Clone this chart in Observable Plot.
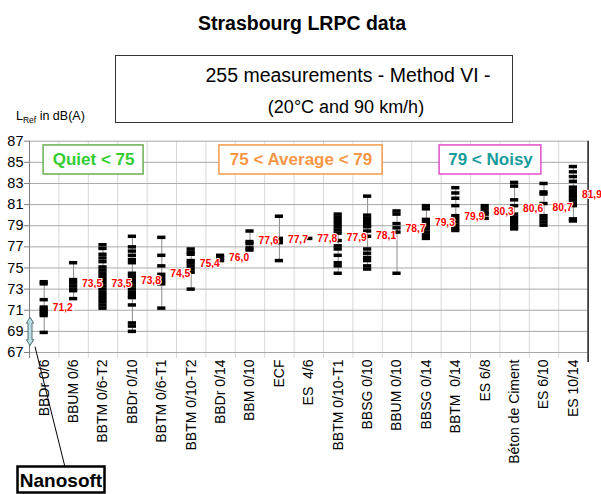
<!DOCTYPE html>
<html><head><meta charset="utf-8">
<script src="https://cdn.jsdelivr.net/npm/d3@7"></script>
<script src="https://cdn.jsdelivr.net/npm/@observablehq/plot@0.6"></script>
<style>
body{margin:0;background:#fff;}
#chart{width:601px;height:494px;overflow:hidden;}
svg text{white-space:pre;}
</style>
</head><body><div id="chart"></div>
<script>
const categories = ["BBDr 0/6","BBUM 0/6","BBTM 0/6-T2","BBDr 0/10","BBTM 0/6-T1","BBTM 0/10-T2","BBDr 0/14","BBM 0/10","ECF","ES  4/6","BBTM 0/10-T1","BBSG 0/10","BBUM 0/10","BBSG 0/14","BBTM  0/14","ES 6/8","Béton de Ciment","ES 6/10","ES 10/14"];

const measurements = [
  [73.7,73.5,72.0,71.3,71.1,70.9,70.7,70.5,68.9],
  [75.5,73.9,73.6,73.3,73.0,72.85,72.1],
  [77.2,76.85,76.3,75.95,75.6,75.1,74.8,74.5,74.2,73.9,73.6,73.3,73.0,72.7,72.4,72.1,71.8,71.5,71.2],
  [78.0,77.0,76.6,76.2,75.8,75.5,74.5,74.2,73.9,73.6,73.3,73.0,72.7,72.4,72.2,71.5,69.8,69.5,69.0],
  [77.9,76.2,75.2,74.4,74.1,73.8,73.5,71.2],
  [76.8,76.5,76.3,75.7,75.5,75.2,74.9,74.6,73.0],
  [76.2,75.95,75.7],
  [78.5,77.5,77.3,76.9,76.7],
  [79.9,77.8,77.6,77.4,75.7],
  [77.8],
  [80.1,79.8,79.5,79.2,78.9,78.6,78.3,77.6,77.1,76.8,76.2,75.5,75.2,74.5],
  [81.8,80.0,79.7,79.4,79.1,78.9,78.5,78.0,76.8,76.4,76.0,75.7,75.2,74.9],
  [80.4,80.1,79.2,78.8,78.4,74.5],
  [80.9,80.6,79.6,79.3,79.0,78.7,78.4,78.1,77.8],
  [82.6,82.1,81.6,80.9,79.95,79.65,79.35,79.05,78.75,78.55],
  [80.9,80.6,80.3,80.1,79.7],
  [83.1,82.75,81.45,80.9,80.1,79.8,79.5,79.2,78.9,78.7],
  [83.0,82.2,82.0,81.1,79.95,79.65,79.35,79.05],
  [84.6,84.1,83.65,83.2,82.65,82.35,82.05,81.75,81.45,81.15,80.9,79.65,79.45]
];

const means = [71.2,73.5,73.5,73.8,74.5,75.4,76.0,77.6,77.7,77.8,77.9,78.1,78.7,79.3,79.9,80.3,80.6,80.7,81.9];

const yTicks = [67,69,71,73,75,77,79,81,83,85,87];

const classes = ["Quiet < 75","75 < Average < 79","79 < Noisy"];

// annotation boxes (layout of the legend boxes, in data units)
const annotations = [
  {label: classes[0], x1: -0.02, x2: 3.38, y1: 83.85, y2: 86.6, border: "#6aaf50", color: "#33cc33"},
  {label: classes[1], x1: 5.96, x2: 11.51, y1: 83.85, y2: 86.6, border: "#f39a4a", color: "#f79646"},
  {label: classes[2], x1: 13.45, x2: 16.91, y1: 83.85, y2: 86.6, border: "#e44fc8", color: "#169c9c"}
];

const points = measurements.flatMap((vals, i) => vals.map(v => ({i, v})));
const ranges = measurements.map((vals, i) => ({i, lo: d3.min(vals), hi: d3.max(vals)}));
const labels = means.map((m, i) => ({i, m, text: m.toFixed(1).replace(".", ",")}));
const idx = d3.range(categories.length);
const n = categories.length;
const bounds = d3.range(1, n).map(k => k - 0.5);

const font = "'Liberation Sans', Arial, sans-serif";

const plot = Plot.plot({
  width: 601, height: 494,
  marginLeft: 29, marginRight: 13.4, marginTop: 140.7, marginBottom: 142,
  style: {fontFamily: font, background: "#fff", color: "#000", overflow: "hidden"},
  x: {type: "linear", domain: [-0.5, n - 0.5]},
  y: {domain: [67, 87]},
  color: {type: "identity"},
  marks: [
    Plot.ruleX(bounds, {y1: 87, y2: 67, insetBottom: -6, stroke: "#d9d9d9"}),
    Plot.ruleY(yTicks, {stroke: "#a8a8a8"}),
    Plot.ruleX([-0.5], {y1: 87, y2: 67, insetBottom: -6, stroke: "#808080"}),
    Plot.ruleX([n - 0.5], {y1: 87, y2: 67, insetBottom: -10, stroke: "#1a1a1a", strokeWidth: 1.5}),
    Plot.axisY({ticks: yTicks, tickSize: 5, tickPadding: 1, fontSize: 14.5, stroke: "#808080", fill: "#000", label: null}),
    Plot.axisX({ticks: idx, tickFormat: i => categories[i], tickRotate: -90, tickSize: 0, tickPadding: 7, fontSize: 14, fill: "#000", label: null}),
    Plot.ruleX(ranges, {x: "i", y1: "lo", y2: "hi", stroke: "#8c8c8c"}),
    Plot.ruleY(points, {x1: d => d.i - 0.14, x2: d => d.i + 0.14, y: "v", stroke: "#000", strokeWidth: 3.5}),
    Plot.text(labels, {x: "i", y: "m", text: "text", dx: 8.5, textAnchor: "start", fill: "#ff0000", stroke: "#fff", strokeWidth: 2, paintOrder: "stroke", fontWeight: "bold", fontSize: 10.3}),
    Plot.rect(annotations, {x1: "x1", x2: "x2", y1: "y1", y2: "y2", fill: "#fff", stroke: "border", strokeWidth: 1.5}),
    Plot.text(annotations, {x: d => (d.x1 + d.x2) / 2, y: d => (d.y1 + d.y2) / 2, text: "label", fill: "color", fontWeight: "bold", fontSize: 17})
  ]
});

document.getElementById("chart").appendChild(plot);

const svg = d3.select(plot);
const ys = plot.scale("y");
const xs = plot.scale("x");
const g = svg.append("g").attr("font-family", font).attr("text-anchor", "start");

// title
g.append("text").attr("x", 302).attr("y", 30).attr("text-anchor", "middle")
  .attr("font-size", 19.5).attr("font-weight", "bold").text("Strasbourg LRPC data");

// subtitle box
g.append("rect").attr("x", 115.5).attr("y", 55.5).attr("width", 397).attr("height", 67)
  .attr("fill", "#fff").attr("stroke", "#333").attr("stroke-width", 1);
g.append("text").attr("x", 348).attr("y", 82).attr("text-anchor", "middle")
  .attr("font-size", 19.5).text("255 measurements - Method VI -");
g.append("text").attr("x", 346).attr("y", 113).attr("text-anchor", "middle")
  .attr("font-size", 18).text("(20°C and 90 km/h)");

// y-axis label
const yl = g.append("text").attr("x", 16).attr("y", 120).attr("font-size", 12.5).attr("text-anchor", "start");
yl.append("tspan").text("L");
yl.append("tspan").attr("font-size", 8.5).attr("dy", 2.5).text("Ref");
yl.append("tspan").attr("dy", -2.5).text(" in dB(A)");

// double arrow on the y axis
const ax = xs.apply(-0.5) + 1;
const aTop = ys.apply(70.3), aBot = ys.apply(67.6);
const hw = 3.6, sw = 2, hh = 6;
g.append("path")
  .attr("d", `M${ax},${aTop}L${ax+hw},${aTop+hh}L${ax+sw},${aTop+hh}L${ax+sw},${aBot-hh}L${ax+hw},${aBot-hh}L${ax},${aBot}L${ax-hw},${aBot-hh}L${ax-sw},${aBot-hh}L${ax-sw},${aTop+hh}L${ax-hw},${aTop+hh}Z`)
  .attr("fill", "#b9e0e6").attr("stroke", "#2f4f4f").attr("stroke-width", 0.8);

// Nanosoft label with leader line
g.append("line").attr("x1", 65).attr("y1", 467).attr("x2", ax + 5).attr("y2", aBot + 1)
  .attr("stroke", "#000").attr("stroke-width", 1);
g.append("rect").attr("x", 17.5).attr("y", 466.5).attr("width", 87).attr("height", 26)
  .attr("fill", "#fff").attr("stroke", "#000").attr("stroke-width", 2.5);
g.append("text").attr("x", 61).attr("y", 487).attr("text-anchor", "middle")
  .attr("font-size", 19).attr("font-weight", "bold").text("Nanosoft");
</script>
</body></html>
